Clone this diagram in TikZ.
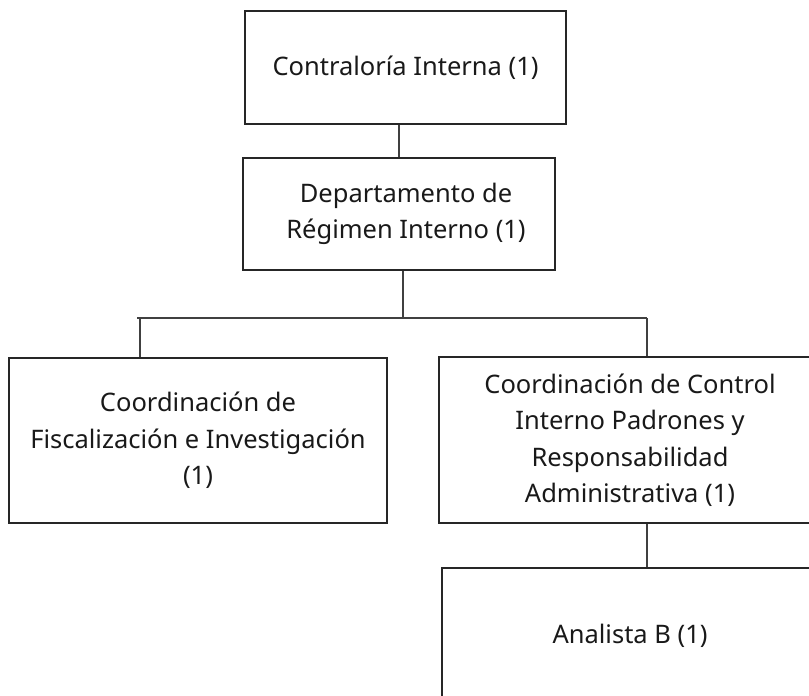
\documentclass[tikz,border=0pt]{standalone}
\usepackage{fontspec}
\setmainfont{Noto Sans}
\begin{document}
\begin{tikzpicture}[x=1pt,y=-1pt,
  box/.style={draw=black!85, line width=1.2pt, align=center, inner sep=0pt,
    text=black!90, font=\fontsize{25.5}{36.5}\selectfont},
  conn/.style={draw=black!75, line width=1.3pt}]
\useasboundingbox (0,0) rectangle (809,696);
\clip (0,0) rectangle (809,696);
\node[box, minimum width=321pt, minimum height=113pt] (b1) at (405.5,67.5) {Contraloría Interna (1)};
\node[box, minimum width=312pt, minimum height=112pt] (b2) at (399,214) {\hspace*{14pt}Departamento de\\\hspace*{14pt}Régimen Interno (1)};
\node[box, minimum width=378pt, minimum height=165pt] (b3) at (198,440.5) {Coordinación de\\Fiscalización e Investigación\\(1)};
\node[box, minimum width=382pt, minimum height=166pt] (b4) at (630,440) {Coordinación de Control\\Interno Padrones y\\Responsabilidad\\Administrativa (1)};
\node[box, minimum width=376pt, minimum height=136pt] (b5) at (630,636) {Analista B (1)};
\coordinate (bus) at (403,318);
\coordinate (busL) at (137,318);
\coordinate (d3) at (140,318);
\coordinate (d4) at (647,318);
\draw[conn] (b1.south -| b2.north) -- (b2.north);
\draw[conn] (b2.south -| bus) -- (bus);
\draw[conn] (busL) -- (d4);
\draw[conn] (d3) -- (d3 |- b3.north);
\draw[conn] (d4) -- (d4 |- b4.north);
\draw[conn] (b4.south -| d4) -- (b5.north -| d4);
\end{tikzpicture}
\end{document}
